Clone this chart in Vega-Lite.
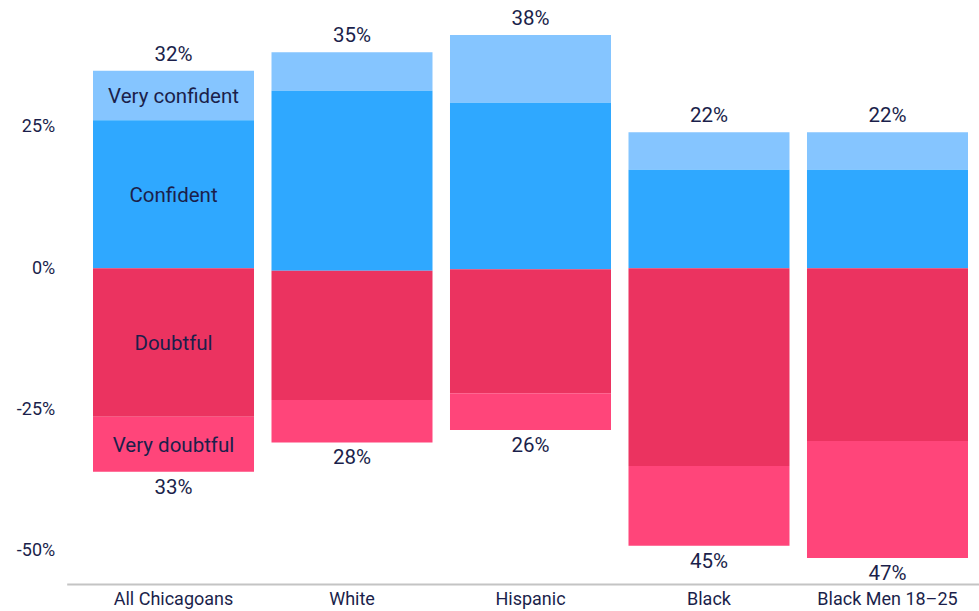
{
  "$schema": "https://vega.github.io/schema/vega-lite/v6.json",
  "autosize": {"type": "none"},
  "padding": {"left": 66.7, "top": 0, "right": 0, "bottom": 27},
  "width": 912.3,
  "height": 584,
  "background": "#ffffff",
  "config": {
    "view": {"stroke": null},
    "font": "Roboto",
    "text": {"font": "Roboto", "color": "#1B1F4B"}
  },
  "datasets": {
    "segments": [
      {"group": "All Chicagoans", "segment": "Very confident", "start": 26.2, "end": 34.95},
      {"group": "All Chicagoans", "segment": "Confident", "start": 0, "end": 26.2},
      {"group": "All Chicagoans", "segment": "Doubtful", "start": -26.25, "end": 0},
      {"group": "All Chicagoans", "segment": "Very doubtful", "start": -35.98, "end": -26.25},
      {"group": "White", "segment": "Very confident", "start": 31.4, "end": 38.2},
      {"group": "White", "segment": "Confident", "start": -0.42, "end": 31.4},
      {"group": "White", "segment": "Doubtful", "start": -23.3, "end": -0.42},
      {"group": "White", "segment": "Very doubtful", "start": -30.8, "end": -23.3},
      {"group": "Hispanic", "segment": "Very confident", "start": 29.3, "end": 41.27},
      {"group": "Hispanic", "segment": "Confident", "start": -0.15, "end": 29.3},
      {"group": "Hispanic", "segment": "Doubtful", "start": -22.1, "end": -0.15},
      {"group": "Hispanic", "segment": "Very doubtful", "start": -28.6, "end": -22.1},
      {"group": "Black", "segment": "Very confident", "start": 17.44, "end": 24.06},
      {"group": "Black", "segment": "Confident", "start": 0, "end": 17.44},
      {"group": "Black", "segment": "Doubtful", "start": -34.97, "end": 0},
      {"group": "Black", "segment": "Very doubtful", "start": -49.1, "end": -34.97},
      {"group": "Black Men 18–25", "segment": "Very confident", "start": 17.44, "end": 24.06},
      {"group": "Black Men 18–25", "segment": "Confident", "start": 0, "end": 17.44},
      {"group": "Black Men 18–25", "segment": "Doubtful", "start": -30.55, "end": 0},
      {"group": "Black Men 18–25", "segment": "Very doubtful", "start": -51.25, "end": -30.55}
    ],
    "totals": [
      {"group": "All Chicagoans", "top": 34.95, "bottom": -35.98, "topLabel": "32%", "bottomLabel": "33%"},
      {"group": "White", "top": 38.2, "bottom": -30.8, "topLabel": "35%", "bottomLabel": "28%"},
      {"group": "Hispanic", "top": 41.27, "bottom": -28.6, "topLabel": "38%", "bottomLabel": "26%"},
      {"group": "Black", "top": 24.06, "bottom": -49.1, "topLabel": "22%", "bottomLabel": "45%"},
      {"group": "Black Men 18–25", "top": 24.06, "bottom": -51.25, "topLabel": "22%", "bottomLabel": "47%"}
    ]
  },
  "encoding": {
    "x": {
      "field": "group",
      "type": "nominal",
      "sort": ["All Chicagoans", "White", "Hispanic", "Black", "Black Men 18–25"],
      "scale": {"paddingInner": 0.098, "paddingOuter": 0.1045, "align": 0.705},
      "axis": {
        "title": null,
        "labelAngle": 0,
        "ticks": false,
        "domain": true,
        "domainColor": "#C4C4C4",
        "domainWidth": 2,
        "labelFont": "Roboto",
        "labelFontSize": 18,
        "labelColor": "#1B1F4B",
        "labelPadding": 6
      }
    }
  },
  "layer": [
    {
      "data": {"name": "segments"},
      "mark": {"type": "bar"},
      "encoding": {
        "y": {
          "field": "start",
          "type": "quantitative",
          "scale": {"domain": [-55.85, 47.46], "nice": false, "zero": false},
          "axis": {
            "title": null,
            "values": [-50, -25, 0, 25],
            "labelExpr": "datum.value + '%'",
            "grid": false,
            "domain": false,
            "ticks": false,
            "labelFont": "Roboto",
            "labelFontSize": 18,
            "labelColor": "#1B1F4B",
            "labelPadding": 12
          }
        },
        "y2": {"field": "end"},
        "color": {
          "field": "segment",
          "type": "nominal",
          "scale": {
            "domain": ["Very confident", "Confident", "Doubtful", "Very doubtful"],
            "range": ["#85C5FF", "#2FA8FF", "#EB3360", "#FF457A"]
          },
          "legend": null
        }
      }
    },
    {
      "data": {"name": "segments"},
      "transform": [
        {"filter": "datum.group === 'All Chicagoans'"},
        {"calculate": "(datum.start + datum.end) / 2", "as": "mid"}
      ],
      "mark": {"type": "text", "fontSize": 20.5, "baseline": "middle", "dy": 2, "color": "#1B1F4B"},
      "encoding": {
        "y": {"field": "mid", "type": "quantitative"},
        "text": {"field": "segment"}
      }
    },
    {
      "data": {"name": "totals"},
      "mark": {"type": "text", "fontSize": 20.5, "baseline": "alphabetic", "dy": -10, "color": "#1B1F4B"},
      "encoding": {
        "y": {"field": "top", "type": "quantitative"},
        "text": {"field": "topLabel"}
      }
    },
    {
      "data": {"name": "totals"},
      "mark": {"type": "text", "fontSize": 20.5, "baseline": "top", "dy": 6, "color": "#1B1F4B"},
      "encoding": {
        "y": {"field": "bottom", "type": "quantitative"},
        "text": {"field": "bottomLabel"}
      }
    }
  ]
}
